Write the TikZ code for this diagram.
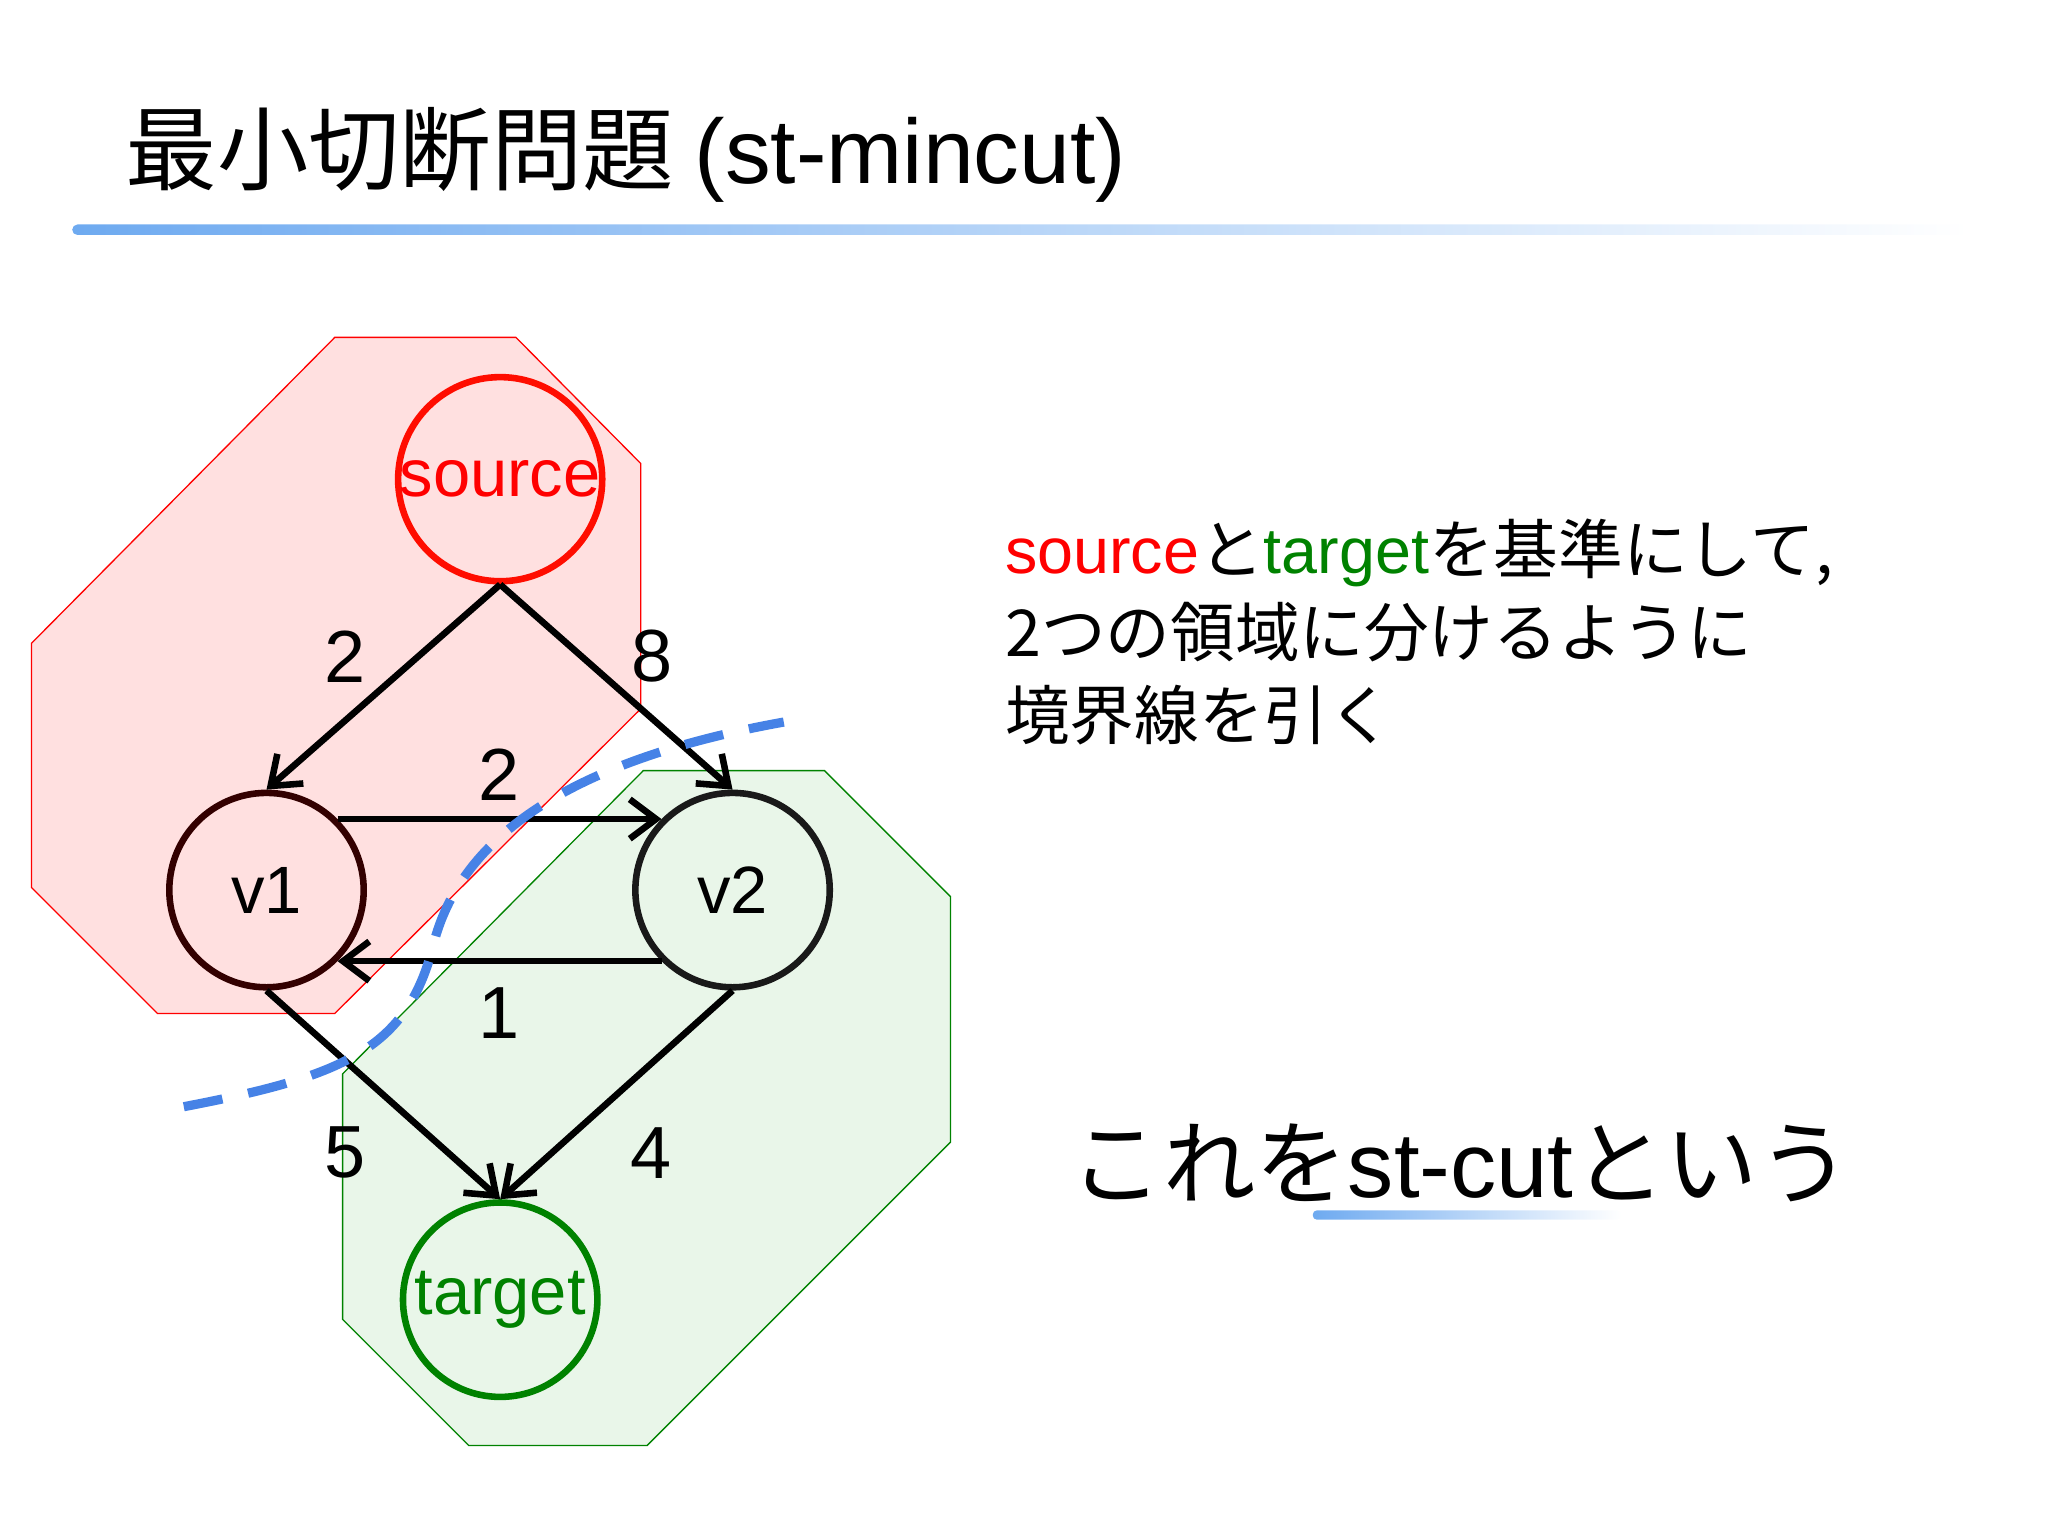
\documentclass[tikz,border=0pt]{standalone}
\usetikzlibrary{arrows.meta}
\usepackage{fontspec}
\setmainfont{Liberation Sans}
\newfontfamily\cjk{Noto Sans CJK JP}
\definecolor{lb}{RGB}{110,170,240}
\definecolor{dg}{RGB}{0,130,0}
\definecolor{cutblue}{RGB}{70,130,230}
\begin{document}
\begin{tikzpicture}[x=0.01cm,y=-0.01cm,
  vtx/.style={circle,minimum size=1.48cm,inner sep=0pt,line width=0.05cm,font=\fontsize{14.5}{16}\selectfont},
  edge/.style={-{Straight Barb[length=0.2cm,width=0.3cm]},line width=0.05cm},
  wlab/.style={font=\fontsize{16}{18}\selectfont}]
\useasboundingbox (0,0) rectangle (1560,1170);
\node[anchor=base west,inner sep=0pt] (title) at (95,140) {\fontsize{19.8}{22}\selectfont\cjk 最小切断問題 \fontspec{Liberation Sans}(st-mincut)};
\shade[left color=lb,right color=white,rounded corners=0.04cm] (55,171) rectangle (1500,179);
\filldraw[fill=red!12,draw=red,line width=0.01cm] (255,257)--(393,257)--(488,353)--(488,540)--(255,772)--(120,772)--(24,676)--(24,490)--cycle;
\filldraw[fill=green!40!gray!15,draw=dg,line width=0.01cm,fill opacity=0.8] (490,587)--(628,587)--(724,683)--(724,870)--(493,1101)--(357,1101)--(261,1005)--(261,818)--cycle;
\node[vtx,draw=red!90!orange,text=red] (s) at (381,365) {source};
\node[vtx,draw=black!80!red] (v1) at (203,678) {v1};
\node[vtx,draw=black!90] (v2) at (558,678) {v2};
\node[vtx,draw=dg,text=dg] (t) at (381,990) {target};
\draw[edge] (s.south) -- (v1.north);
\draw[edge] (s.south) -- (v2.north);
\draw[edge] (v1.north east) -- (v2.north west);
\draw[edge] (v2.south west) -- (v1.south east);
\draw[edge] (v1.south) -- (t.north);
\draw[edge] (v2.south) -- (t.north);
\node[wlab] (l1) at (263,500) {2};
\node[wlab] (l2) at (497,500) {8};
\node[wlab] (l3) at (380,590) {2};
\node[wlab] (l4) at (380,772) {1};
\node[wlab] (l5) at (263,878) {5};
\node[wlab] (l6) at (496,878) {4};
\draw[cutblue,line width=0.07cm,dash pattern=on 0.3cm off 0.2cm] (140,843) .. controls (260,820) and (310,800) .. (330,720) .. controls (350,640) and (430,580) .. (597,550);
\node[anchor=base west,inner sep=0pt,align=left,font=\fontsize{14}{18}\selectfont] (txt) at (765,437) {\textcolor{red}{source}{\cjk と}\textcolor{dg}{target}{\cjk を基準にして,}};
\node[anchor=base west,inner sep=0pt,font=\fontsize{14}{18}\selectfont\cjk] (txt2) at (765,500) {2つの領域に分けるように};
\node[anchor=base west,inner sep=0pt,font=\fontsize{14}{18}\selectfont\cjk] (txt3) at (765,563) {境界線を引く};
\shade[left color=lb,right color=white,rounded corners=0.03cm] (1000,922) rectangle (1235,929);
\node[anchor=base west,inner sep=0pt,font=\fontsize{20}{22}\selectfont] (cut) at (815,912) {{\cjk これを}st-cut{\cjk という}};
\end{tikzpicture}
\end{document}
